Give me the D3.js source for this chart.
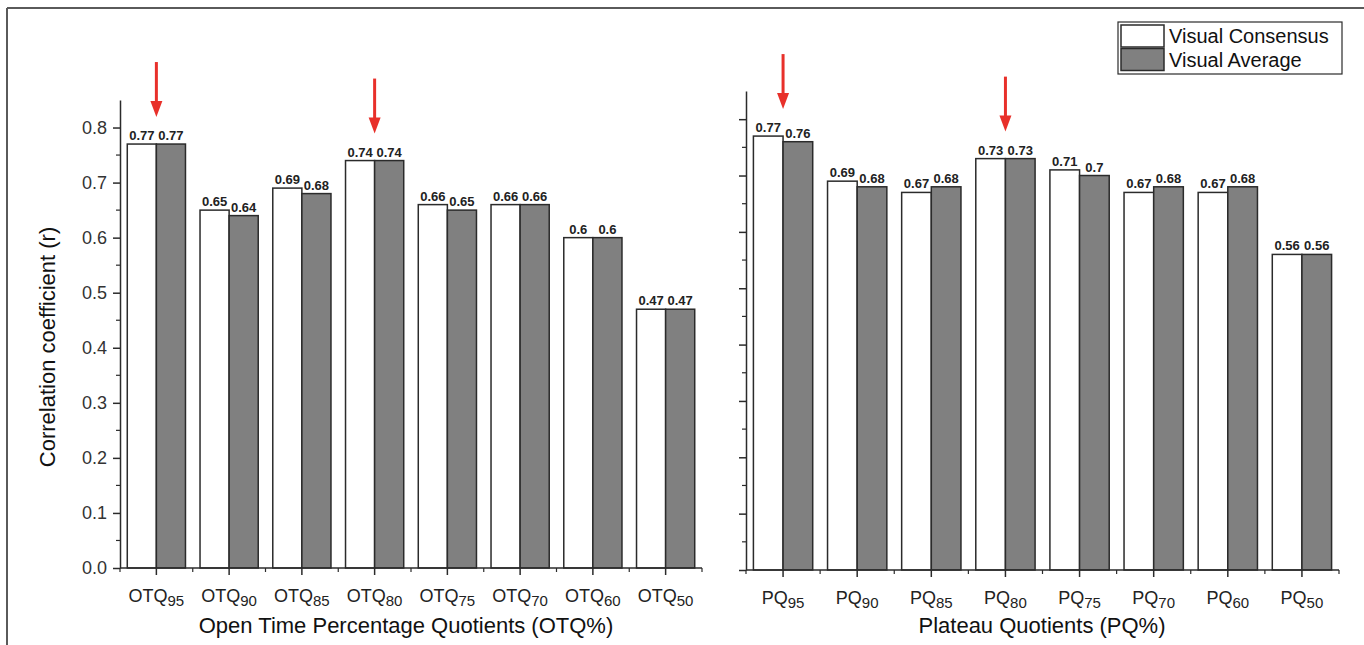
<!DOCTYPE html>
<html>
<head>
<meta charset="utf-8">
<script src="https://cdn.jsdelivr.net/npm/d3@7"></script>
<style>
  body { margin: 0; background: #fff; }
  svg { display: block; font-family: "Liberation Sans", Arial, sans-serif; }
</style>
</head>
<body>
<div id="chart"></div>
<script>
// categories (prefix + subscript)
var otqSubs = ["95", "90", "85", "80", "75", "70", "60", "50"];
var pqSubs = ["95", "90", "85", "80", "75", "70", "60", "50"];
var seriesNames = ["Visual Consensus", "Visual Average"];

// correlation values
var otqConsensus = [0.77, 0.65, 0.69, 0.74, 0.66, 0.66, 0.60, 0.47];
var otqAverage = [0.77, 0.64, 0.68, 0.74, 0.65, 0.66, 0.60, 0.47];
var pqConsensus = [0.77, 0.69, 0.67, 0.73, 0.71, 0.67, 0.67, 0.56];
var pqAverage = [0.76, 0.68, 0.68, 0.73, 0.70, 0.68, 0.68, 0.56];

// highlighted categories (red arrows)
var otqMarked = ["95", "80"];
var pqMarked = ["95", "80"];

var yMajor = [0, 0.1, 0.2, 0.3, 0.4, 0.5, 0.6, 0.7, 0.8];
var yMinor = [0.05, 0.15, 0.25, 0.35, 0.45, 0.55, 0.65, 0.75];

var w = 1364, h = 645;
var svg = d3.select("#chart").append("svg")
  .attr("width", w)
  .attr("height", h);

var ink = "#2b2b2b";
var fills = ["#ffffff", "#808080"];

// page frame (top and left)
svg.append("line").attr("x1", 7).attr("x2", w).attr("y1", 8).attr("y2", 8)
  .attr("stroke", "#5a5a5a").attr("stroke-width", 2);
svg.append("line").attr("x1", 7).attr("x2", 7).attr("y1", 8).attr("y2", h)
  .attr("stroke", "#5a5a5a").attr("stroke-width", 2);

var panels = [
  { prefix: "OTQ", subs: otqSubs, values: [otqConsensus, otqAverage], marked: otqMarked,
    x0: 120, x1: 702, yTop: 100, yBase: 568, labels: true,
    title: "Open Time Percentage Quotients (OTQ%)", titleX: 406 },
  { prefix: "PQ", subs: pqSubs, values: [pqConsensus, pqAverage], marked: pqMarked,
    x0: 746, x1: 1339, yTop: 91, yBase: 570, labels: false,
    title: "Plateau Quotients (PQ%)", titleX: 1042 }
];

panels.forEach(function(p) {
  var g = svg.append("g");

  var xScale = d3.scaleBand()
    .domain(p.subs)
    .range([p.x0, p.x1])
    .paddingInner(0.2)
    .paddingOuter(0.1);
  var xSub = d3.scaleBand()
    .domain(d3.range(seriesNames.length))
    .range([0, xScale.bandwidth()]);
  var yScale = d3.scaleLinear()
    .domain([0, 0.85])
    .range([p.yBase, p.yTop]);

  // bars
  var groups = g.selectAll("g.cat")
    .data(p.subs)
    .enter().append("g")
    .attr("class", "cat")
    .attr("transform", function(d) { return "translate(" + xScale(d) + ",0)"; });

  groups.selectAll("rect")
    .data(function(d, i) { return p.values.map(function(s, k) { return { k: k, v: s[i] }; }); })
    .enter().append("rect")
    .attr("x", function(d) { return xSub(d.k); })
    .attr("y", function(d) { return yScale(d.v); })
    .attr("width", xSub.bandwidth())
    .attr("height", function(d) { return yScale(0) - yScale(d.v); })
    .attr("fill", function(d) { return fills[d.k]; })
    .attr("stroke", ink)
    .attr("stroke-width", 1.5);

  groups.selectAll("text.val")
    .data(function(d, i) { return p.values.map(function(s, k) { return { k: k, v: s[i] }; }); })
    .enter().append("text")
    .attr("class", "val")
    .attr("x", function(d) { return xSub(d.k) + xSub.bandwidth() / 2; })
    .attr("y", function(d) { return yScale(d.v) - 4; })
    .attr("text-anchor", "middle")
    .attr("font-size", 13)
    .attr("font-weight", "bold")
    .attr("fill", "#222")
    .text(function(d) { return String(d.v); });

  // y axis
  var yAxis = d3.axisLeft(yScale)
    .tickValues(yMajor)
    .tickSize(7)
    .tickSizeOuter(0)
    .tickPadding(6)
    .tickFormat(p.labels ? d3.format(".1f") : "");
  var yg = g.append("g")
    .attr("transform", "translate(" + p.x0 + ",0)")
    .call(yAxis);
  yg.select(".domain").attr("stroke", ink).attr("stroke-width", 1.5);
  yg.selectAll(".tick line").attr("stroke", ink).attr("stroke-width", 1.5);
  yg.selectAll(".tick text").attr("font-size", 18).attr("fill", "#333")
    .attr("font-family", "Liberation Sans, Arial, sans-serif");

  g.append("g").selectAll("line")
    .data(yMinor)
    .enter().append("line")
    .attr("x1", p.x0 - 4).attr("x2", p.x0)
    .attr("y1", function(d) { return yScale(d); })
    .attr("y2", function(d) { return yScale(d); })
    .attr("stroke", ink).attr("stroke-width", 1.2);

  // x axis
  var xg = g.append("g").attr("transform", "translate(0," + p.yBase + ")");
  xg.append("line")
    .attr("x1", p.x0).attr("x2", p.x1)
    .attr("stroke", ink).attr("stroke-width", 1.5);
  xg.selectAll("line.major")
    .data(p.subs)
    .enter().append("line")
    .attr("class", "major")
    .attr("x1", function(d) { return xScale(d) + xScale.bandwidth() / 2; })
    .attr("x2", function(d) { return xScale(d) + xScale.bandwidth() / 2; })
    .attr("y1", 0).attr("y2", 7)
    .attr("stroke", ink).attr("stroke-width", 1.5);
  var step = xScale.step();
  var minorX = p.subs.map(function(d) { return xScale(d) + xScale.bandwidth() / 2 - step / 2; });
  minorX.push(xScale(p.subs[p.subs.length - 1]) + xScale.bandwidth() / 2 + step / 2);
  xg.selectAll("line.minor")
    .data(minorX)
    .enter().append("line")
    .attr("class", "minor")
    .attr("x1", function(d) { return d; })
    .attr("x2", function(d) { return d; })
    .attr("y1", 0).attr("y2", 4)
    .attr("stroke", ink).attr("stroke-width", 1.2);

  var lbl = xg.selectAll("text.cat")
    .data(p.subs)
    .enter().append("text")
    .attr("class", "cat")
    .attr("x", function(d) { return xScale(d) + xScale.bandwidth() / 2; })
    .attr("y", 34)
    .attr("text-anchor", "middle")
    .attr("font-size", 18)
    .attr("fill", "#222");
  lbl.append("tspan").text(p.prefix);
  lbl.append("tspan")
    .attr("font-size", 15)
    .attr("dy", 4)
    .text(function(d) { return d; });

  // axis title
  g.append("text")
    .attr("x", p.titleX)
    .attr("y", 633)
    .attr("text-anchor", "middle")
    .attr("font-size", 22)
    .attr("fill", "#111")
    .text(p.title);

  // red arrows over highlighted categories
  var arrows = g.selectAll("g.arrow")
    .data(p.marked)
    .enter().append("g")
    .attr("class", "arrow")
    .attr("transform", function(d) {
      var i = p.subs.indexOf(d);
      var top = d3.max(p.values, function(s) { return s[i]; });
      return "translate(" + (xScale(d) + xScale.bandwidth() / 2) + "," + (yScale(top) - 27) + ")";
    });
  arrows.append("line")
    .attr("x1", 0).attr("x2", 0)
    .attr("y1", -55).attr("y2", -12)
    .attr("stroke", "#e8302a").attr("stroke-width", 3);
  arrows.append("path")
    .attr("d", "M-6,-16 L6,-16 L0,0 Z")
    .attr("fill", "#e8302a");
});

// y title
svg.append("text")
  .attr("transform", "translate(55,347) rotate(-90)")
  .attr("text-anchor", "middle")
  .attr("font-size", 22)
  .attr("fill", "#111")
  .text("Correlation coefficient (r)");

// legend
var legend = svg.append("g").attr("transform", "translate(1118,22)");
legend.append("rect")
  .attr("width", 224).attr("height", 52)
  .attr("fill", "#fff").attr("stroke", ink).attr("stroke-width", 1.2);
var items = legend.selectAll("g.item")
  .data(seriesNames)
  .enter().append("g")
  .attr("class", "item")
  .attr("transform", function(d, i) { return "translate(3," + (3 + i * 23.5) + ")"; });
items.append("rect")
  .attr("width", 43).attr("height", 22)
  .attr("fill", function(d, i) { return fills[i]; })
  .attr("stroke", ink).attr("stroke-width", 1.5);
items.append("text")
  .attr("x", 48).attr("y", 18)
  .attr("font-size", 20)
  .attr("fill", "#111")
  .text(function(d) { return d; });
</script>
</body>
</html>
